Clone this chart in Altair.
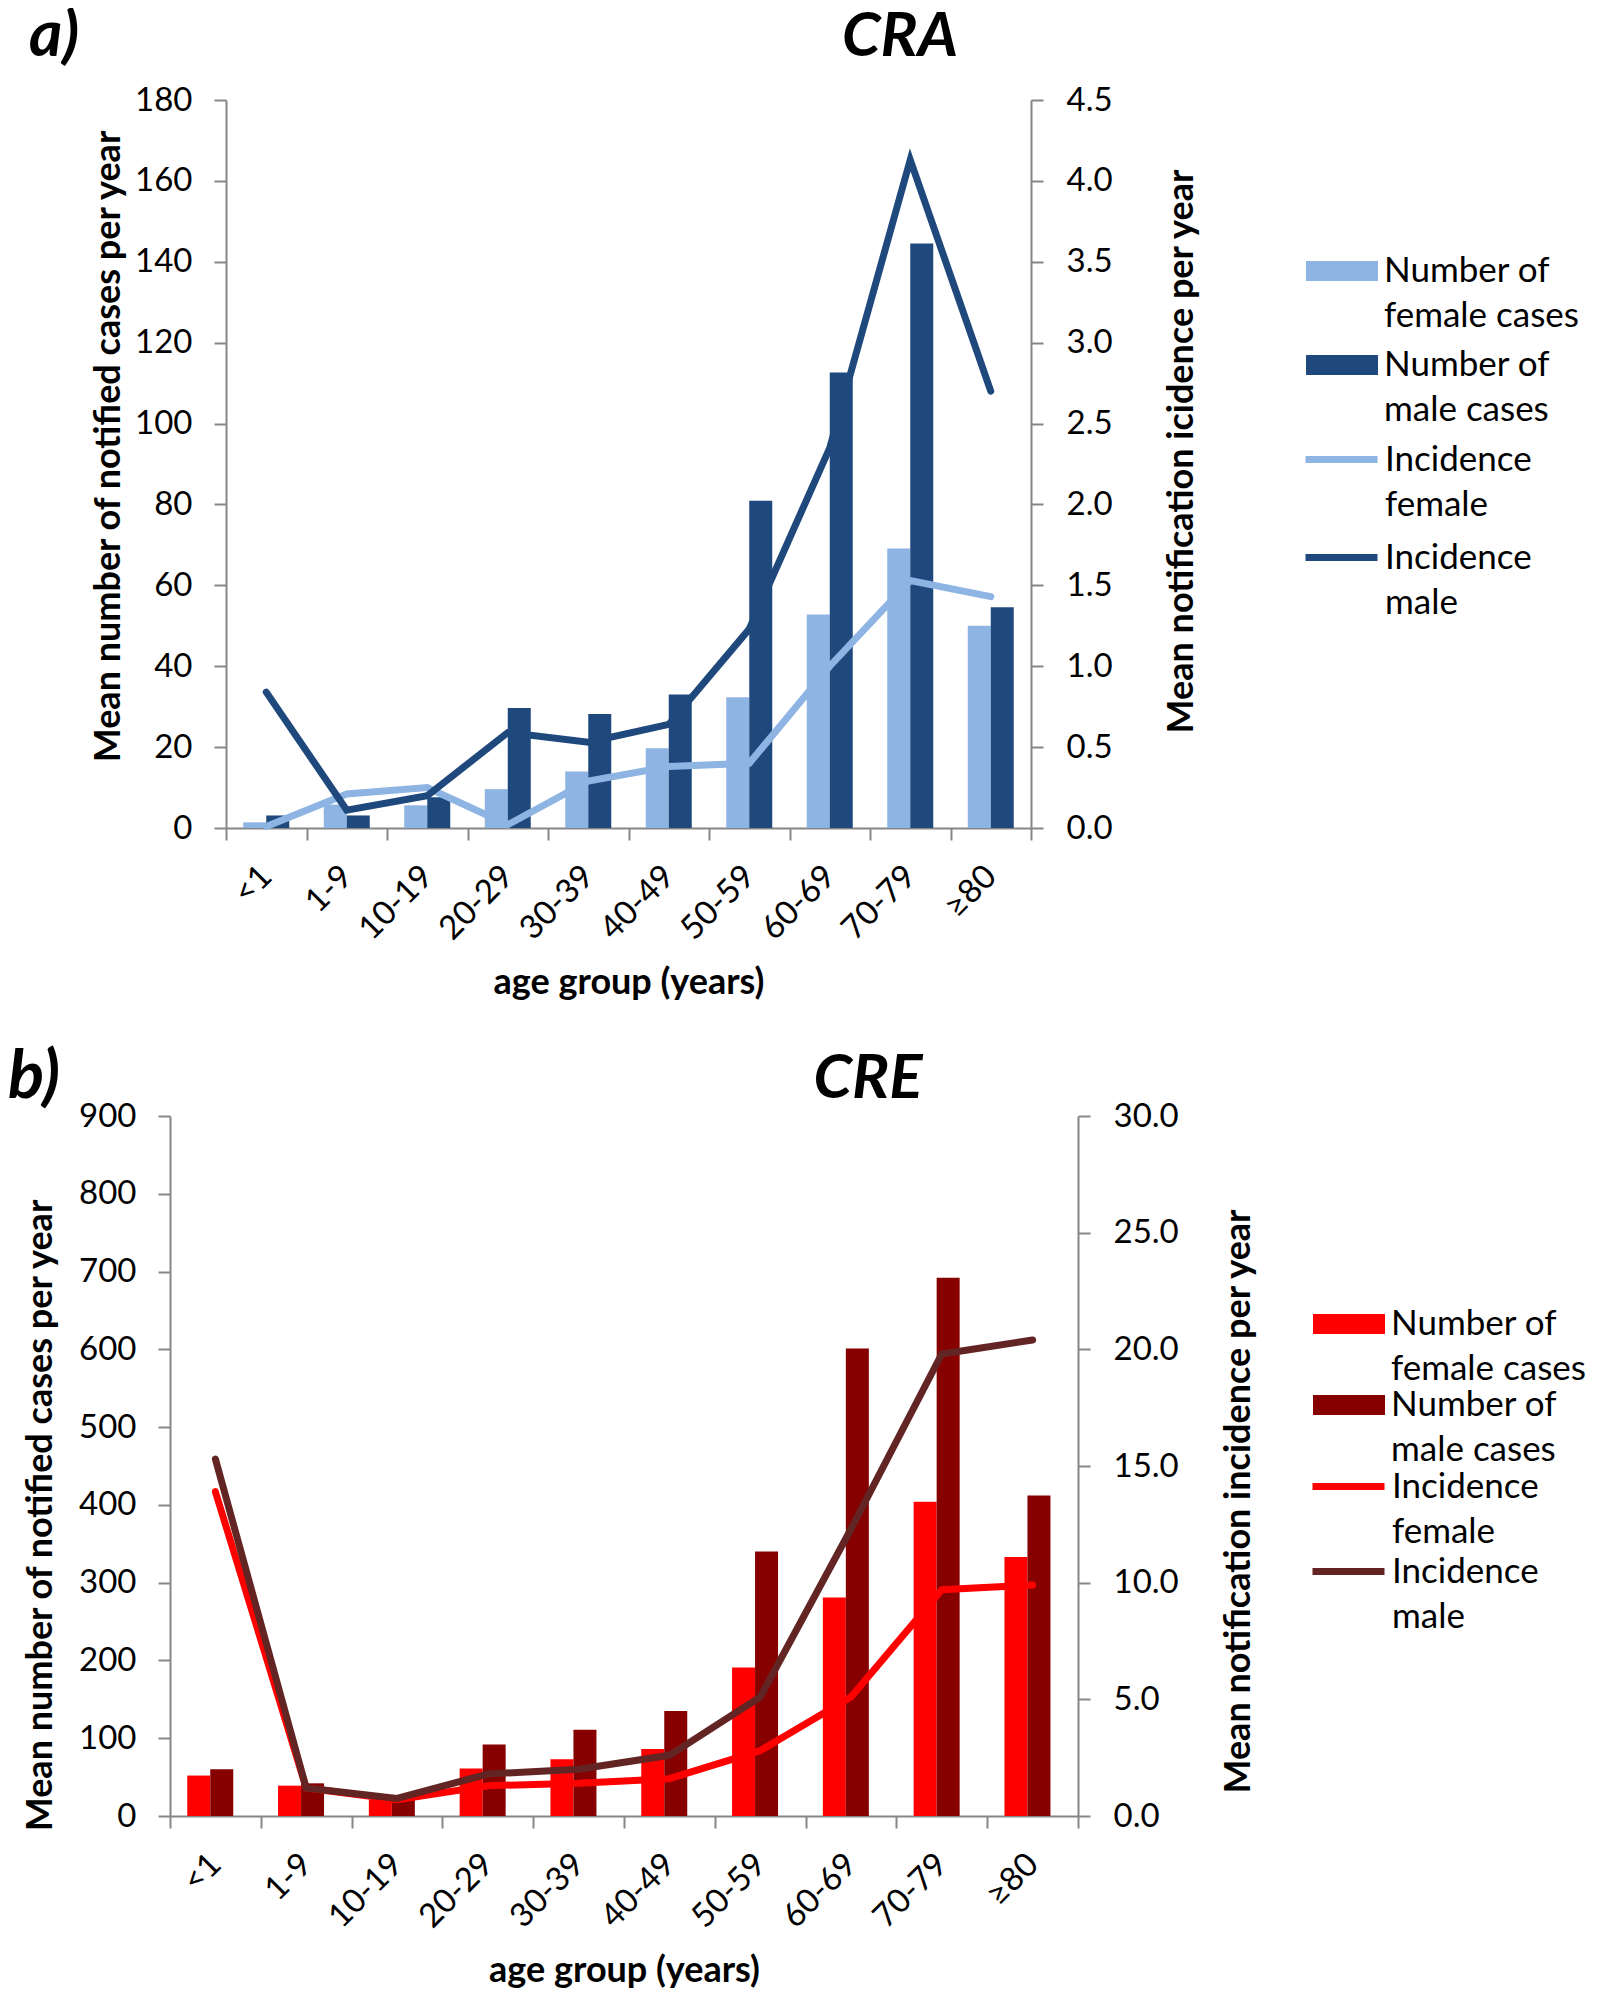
import altair as alt
import pandas as pd

FONT = "Lato"

ages = ["<1", "1-9", "10-19", "20-29", "30-39", "40-49", "50-59", "60-69", "70-79", "≥80"]
bar_series = ["Number of|female cases", "Number of|male cases"]
line_series = ["Incidence|female", "Incidence|male"]

# CRA (panel a)
cra_female_cases = [1.4, 5.8, 5.6, 9.6, 14.0, 19.7, 32.3, 52.8, 69.1, 50.0]
cra_male_cases = [3.1, 3.1, 7.6, 29.7, 28.2, 33.0, 80.9, 112.6, 144.5, 54.6]
cra_female_inc = [0.01, 0.21, 0.25, 0.02, 0.29, 0.38, 0.40, 1.00, 1.53, 1.43]
cra_male_inc = [0.84, 0.11, 0.20, 0.59, 0.53, 0.64, 1.23, 2.35, 4.13, 2.70]

# CRE (panel b)
cre_female_cases = [52, 39, 21, 61, 73, 86, 191, 281, 404, 333]
cre_male_cases = [60, 42, 27, 92, 111, 135, 340, 601, 692, 412]
cre_female_inc = [13.9, 1.2, 0.7, 1.3, 1.4, 1.6, 2.8, 5.1, 9.7, 9.9]
cre_male_inc = [15.3, 1.2, 0.75, 1.8, 2.0, 2.6, 5.1, 12.3, 19.8, 20.4]

cra_bar_colors = ["#8EB4E3", "#1F497D"]
cra_line_colors = ["#8EB4E3", "#1F497D"]
cre_bar_colors = ["#FF0000", "#860000"]
cre_line_colors = ["#FF0000", "#632523"]

cra_left_ticks = list(range(0, 181, 20))
cra_right_ticks = [0.0, 0.5, 1.0, 1.5, 2.0, 2.5, 3.0, 3.5, 4.0, 4.5]
cre_left_ticks = list(range(0, 901, 100))
cre_right_ticks = [0.0, 5.0, 10.0, 15.0, 20.0, 25.0, 30.0]

# legend swatch shapes (drawn at half the nominal symbol size so entries pack tightly)
SWATCH_PATH = "M-2,-0.56H2V0.56H-2Z"
STROKE_PATH = "M-2,0H2"


def make_panel(letter, name, f_cases, m_cases, f_inc, m_inc, bar_colors, line_colors,
               width, x_start, height, left_ticks, right_ticks, right_title,
               letter_x, letter_y, letter_size, name_x, name_y,
               legend_x, legend_y_bar, legend_y_line, row_pad,
               left_title_pad, left_title_y, right_title_pad, right_title_y):
    bars_df = pd.DataFrame({
        "age": ages * 2,
        "series": [bar_series[0]] * len(ages) + [bar_series[1]] * len(ages),
        "cases": f_cases + m_cases,
    })
    lines_df = pd.DataFrame({
        "age": ages * 2,
        "series": [line_series[0]] * len(ages) + [line_series[1]] * len(ages),
        "inc": f_inc + m_inc,
    })
    x = alt.X(
        "age:N",
        scale=alt.Scale(domain=ages, paddingInner=0, paddingOuter=0, range=[x_start, width]),
        axis=alt.Axis(
            title="age group (years)", labelAngle=315, labelAlign="right",
            labelBaseline="middle", labelPadding=31, tickBand="extent",
            labelOverlap=False, titlePadding=20,
        ),
    )
    leg_common = dict(
        title=None, orient="none", labelExpr="split(datum.label, '|')",
        labelFont=FONT, labelFontSize=35, labelColor="black",
        rowPadding=row_pad, labelLimit=400,
    )
    bars = alt.Chart(bars_df).mark_bar().encode(
        x=x,
        xOffset=alt.XOffset("series:N", scale=alt.Scale(domain=bar_series, paddingInner=0, paddingOuter=0.75)),
        y=alt.Y(
            "cases:Q",
            scale=alt.Scale(domain=[left_ticks[0], left_ticks[-1]], nice=False),
            axis=alt.Axis(title="Mean number of notified cases per year", values=left_ticks,
                          labelPadding=22, titlePadding=left_title_pad, titleY=left_title_y,
                          offset=-x_start),
        ),
        fill=alt.Fill(
            "series:N",
            scale=alt.Scale(domain=bar_series, range=bar_colors),
            legend=alt.Legend(legendX=legend_x, legendY=legend_y_bar, symbolType=SWATCH_PATH,
                              symbolSize=1296, symbolStrokeWidth=0, symbolOffset=18,
                              labelOffset=24, **leg_common),
        ),
    )
    lines = alt.Chart(lines_df).mark_line(strokeWidth=7, strokeCap="round").encode(
        x=x,
        y=alt.Y(
            "inc:Q",
            scale=alt.Scale(domain=[right_ticks[0], right_ticks[-1]], nice=False),
            axis=alt.Axis(orient="right", title=right_title, titleAngle=270, values=right_ticks,
                          format=".1f", labelPadding=23, titlePadding=right_title_pad,
                          titleY=right_title_y),
        ),
        stroke=alt.Stroke(
            "series:N",
            scale=alt.Scale(domain=line_series, range=line_colors),
            legend=alt.Legend(legendX=legend_x, legendY=legend_y_line, symbolType=STROKE_PATH,
                              symbolSize=1296, symbolStrokeWidth=7, symbolOffset=14,
                              labelOffset=22, **leg_common),
        ),
    )
    letter_txt = alt.Chart(pd.DataFrame({"label": [letter]})).mark_text(
        font=FONT, fontSize=letter_size, fontWeight="bold", fontStyle="italic",
        align="left", baseline="alphabetic", color="black",
    ).encode(text="label:N", x=alt.value(letter_x), y=alt.value(letter_y))
    name_txt = alt.Chart(pd.DataFrame({"label": [name]})).mark_text(
        font=FONT, fontSize=62, fontWeight="bold", fontStyle="italic",
        align="center", baseline="alphabetic", color="black",
    ).encode(text="label:N", x=alt.value(name_x), y=alt.value(name_y))
    return alt.layer(bars, lines, letter_txt, name_txt).resolve_scale(
        y="independent", fill="independent", stroke="independent"
    ).properties(width=width, height=height)


panel_a = make_panel(
    "a)", "CRA", cra_female_cases, cra_male_cases, cra_female_inc, cra_male_inc,
    cra_bar_colors, cra_line_colors, 861, 56, 728, cra_left_ticks, cra_right_ticks,
    "Mean notification icidence per year",
    letter_x=-141, letter_y=-44, letter_size=64, name_x=730, name_y=-44,
    legend_x=1136, legend_y_bar=153, legend_y_line=338, row_pad=13,
    left_title_pad=7, left_title_y=346, right_title_pad=88, right_title_y=351,
)
panel_b = make_panel(
    "b)", "CRE", cre_female_cases, cre_male_cases, cre_female_inc, cre_male_inc,
    cre_bar_colors, cre_line_colors, 908, 0, 700, cre_left_ticks, cre_right_ticks,
    "Mean notification incidence per year",
    letter_x=-162, letter_y=-18, letter_size=67, name_x=698, name_y=-18,
    legend_x=1143, legend_y_bar=190, legend_y_line=349, row_pad=0,
    left_title_pad=19, left_title_y=399, right_title_pad=79, right_title_y=385,
)

chart = alt.vconcat(panel_a, panel_b, spacing=43).resolve_scale(
    x="independent", y="independent", fill="independent", stroke="independent"
).properties(
    padding={"left": 0, "top": -3, "right": 0, "bottom": 0}
).configure(
    font=FONT, style={"guide-label": {"lineHeight": 45}}
).configure_view(stroke=None).configure_axis(
    domainColor="#868686", domainWidth=2, tickColor="#868686", tickWidth=2, tickSize=12,
    labelColor="black", labelFont=FONT, labelFontSize=33,
    titleColor="black", titleFont=FONT, titleFontSize=36, titleFontWeight="bold", grid=False,
)

chart.save("out.html", embed_options={"renderer": "svg", "actions": False})
